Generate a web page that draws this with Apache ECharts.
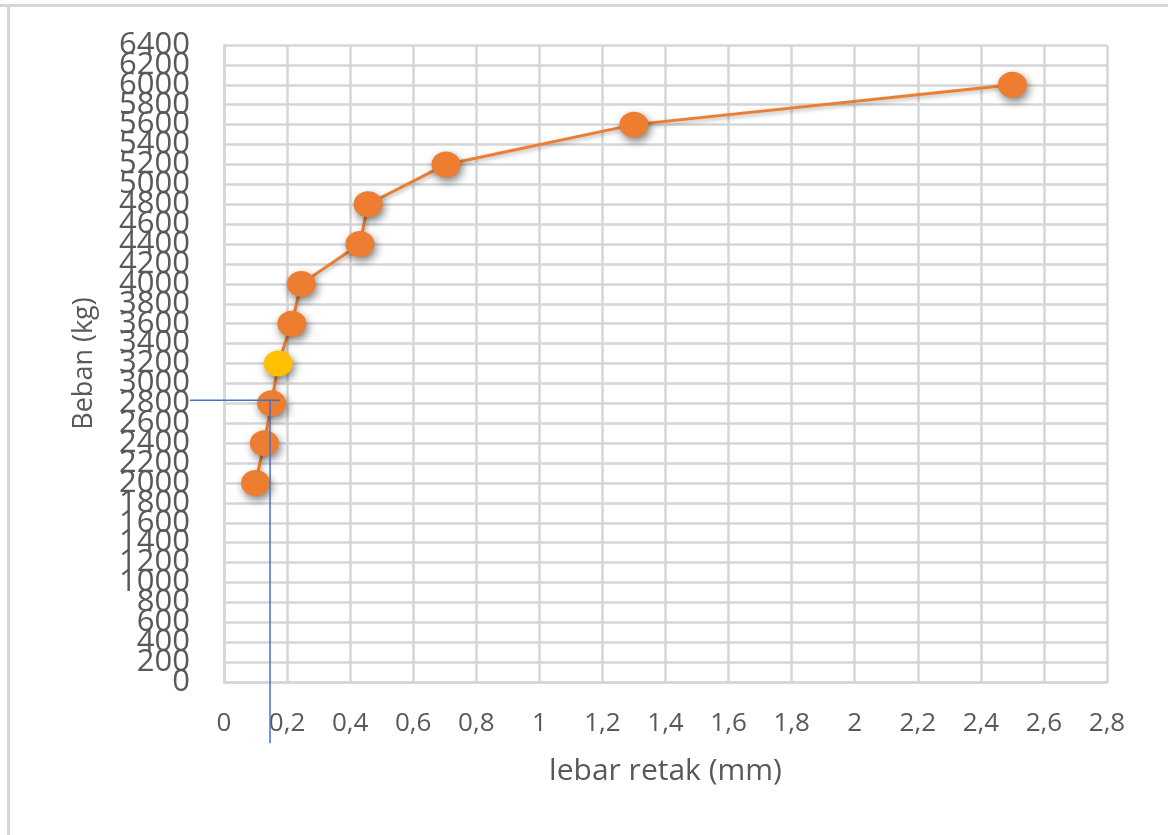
<!DOCTYPE html>
<html>
<head>
<meta charset="utf-8">
<title>Beban vs lebar retak</title>
<script src="https://cdn.jsdelivr.net/npm/echarts@6/dist/echarts.min.js"></script>
<style>
  html, body { margin: 0; padding: 0; background: #ffffff; }
  #chart { width: 1168px; height: 835px; }
</style>
</head>
<body>
<div id="chart"></div>
<script>
// Crack width (mm) measured at each load step (kg)
const crackWidth = [0.10, 0.128, 0.151, 0.172, 0.215, 0.245, 0.431, 0.457, 0.704, 1.30, 2.50];
const load = [2000, 2400, 2800, 3200, 3600, 4000, 4400, 4800, 5200, 5600, 6000];
// Load step highlighted in yellow
const highlightLoad = 3200;

// Load axis range and step
const loadMin = 0;
const loadMax = 6400;
const loadStep = 200;

// Guide lines reading the crack width at the service load
const guideHX = [-0.108, 0.178];
const guideHY = [2830, 2830];
const guideVX = [0.146, 0.146];
const guideVY = [2830, -615];

const axisFont = 'Open Sans';
const textColor = '#595959';
const gridColor = '#d6d6d6';
const guideColor = '#4472C4';

const pointData = crackWidth.map((x, i) => {
  const item = { value: [x, load[i]] };
  if (load[i] === highlightLoad) {
    item.itemStyle = { color: '#FFC000' };
  }
  return item;
});

const fmtComma = v => String(+v.toFixed(1)).replace('.', ',');
const yLabelStyle = {
  fontFamily: axisFont, fontSize: 31, color: textColor,
  formatter: v => String(v)
};

const chart = echarts.init(document.getElementById('chart'), null, { renderer: 'canvas' });

chart.setOption({
  animation: false,
  backgroundColor: '#ffffff',
  grid: { left: 224, right: 61, top: 45, bottom: 153, containLabel: false },
  xAxis: {
    type: 'value',
    min: 0, max: 2.8, interval: 0.2,
    name: 'lebar retak (mm)',
    nameLocation: 'middle',
    nameGap: 74,
    nameTextStyle: { fontFamily: axisFont, fontSize: 30, color: textColor },
    axisLine: { show: true, lineStyle: { color: gridColor, width: 2.5 } },
    axisTick: { show: false },
    axisLabel: {
      margin: 29,
      fontFamily: axisFont, fontSize: 26, color: textColor,
      formatter: fmtComma
    },
    splitLine: { show: true, lineStyle: { color: gridColor, width: 2.5 } }
  },
  yAxis: [
    {
      // inner steps 200 … 6200 with the gridlines
      type: 'value',
      min: loadMin, max: loadMax, interval: loadStep,
      name: 'Beban (kg)',
      nameLocation: 'middle',
      nameGap: 126,
      nameRotate: 90,
      nameTextStyle: { fontFamily: axisFont, fontSize: 27, color: textColor },
      axisLine: { show: true, lineStyle: { color: gridColor, width: 2.5 } },
      axisTick: { show: false },
      axisLabel: Object.assign({
        margin: 34,
        showMinLabel: false, showMaxLabel: false,
        hideOverlap: false
      }, yLabelStyle),
      splitLine: { show: true, lineStyle: { color: gridColor, width: 2.5 } }
    },
    {
      // end labels 0 and 6400 on the same scale
      type: 'value',
      position: 'left',
      min: loadMin, max: loadMax, interval: loadMax - loadMin,
      axisLine: { show: false },
      axisTick: { show: false },
      splitLine: { show: false },
      axisLabel: Object.assign({ margin: 34 }, yLabelStyle)
    }
  ],
  series: [
    {
      type: 'line',
      yAxisIndex: 0,
      data: pointData,
      symbol: 'circle',
      symbolSize: [29, 26],
      z: 3,
      lineStyle: {
        color: '#ED7D31', width: 3,
        shadowColor: 'rgba(0,0,0,0.3)', shadowBlur: 4, shadowOffsetX: 1, shadowOffsetY: 2
      },
      itemStyle: {
        color: '#ED7D31',
        shadowColor: 'rgba(0,0,0,0.5)', shadowBlur: 9, shadowOffsetX: 2, shadowOffsetY: 4
      }
    }
  ]
});

// Frame around the chart and the blue guide lines, placed through the axes' scales
const toPx = (xs, ys) => xs.map((x, i) => chart.convertToPixel({ xAxisIndex: 0, yAxisIndex: 0 }, [x, ys[i]]));

chart.setOption({
  graphic: [
    { type: 'line', shape: { x1: 0, y1: 5.5, x2: 1168, y2: 5.5 },
      style: { stroke: gridColor, lineWidth: 3 }, silent: true },
    { type: 'line', shape: { x1: 8.5, y1: 5.5, x2: 8.5, y2: 835 },
      style: { stroke: gridColor, lineWidth: 3 }, silent: true },
    { type: 'polyline', z: 10, shape: { points: toPx(guideHX, guideHY) },
      style: { stroke: guideColor, lineWidth: 1.5, fill: null }, silent: true },
    { type: 'polyline', z: 10, shape: { points: toPx(guideVX, guideVY) },
      style: { stroke: guideColor, lineWidth: 1.5, fill: null }, silent: true }
  ]
});
</script>
</body>
</html>
